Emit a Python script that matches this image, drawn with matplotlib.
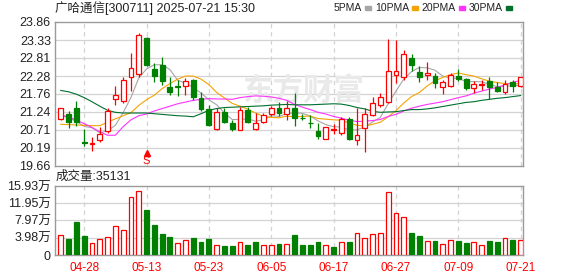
"""
Daily K-line chart for 广哈通信 (300711) with PMA lines and volume panel.
Run: python plot.py
"""
import matplotlib
matplotlib.use("Agg")
import matplotlib.pyplot as plt

plt.rcParams["font.family"] = ["Liberation Sans", "Noto Sans CJK SC"]

# ---- data -------------------------------------------------------------------
DATES = [
    "04-23", "04-24", "04-25", "04-28", "04-29", "04-30", "05-06", "05-07",
    "05-08", "05-09", "05-12", "05-13", "05-14", "05-15", "05-16", "05-19",
    "05-20", "05-21", "05-22", "05-23", "05-26", "05-27", "05-28", "05-29",
    "05-30", "06-03", "06-04", "06-05", "06-06", "06-09", "06-10", "06-11",
    "06-12", "06-13", "06-16", "06-17", "06-18", "06-19", "06-20", "06-23",
    "06-24", "06-25", "06-26", "06-27", "06-30", "07-01", "07-02", "07-03",
    "07-04", "07-07", "07-08", "07-09", "07-10", "07-11", "07-14", "07-15",
    "07-16", "07-17", "07-18", "07-21",
]
OPEN = [
    21.02, 21.17, 21.34, 20.35, 20.29, 20.40, 20.68, 21.62, 21.54, 22.26,
    22.33, 23.40, 22.48, 22.59, 21.96, 21.98, 22.00, 22.17, 21.65, 21.31,
    20.73, 21.24, 20.91, 20.71, 21.29, 20.73, 20.95, 21.17, 21.34, 21.17,
    21.34, 21.06, 20.92, 20.68, 20.45, 20.70, 20.63, 21.03, 20.40, 20.76,
    21.13, 21.42, 21.51, 22.31, 22.26, 22.80, 22.39, 22.31, 22.28, 21.96,
    22.00, 22.28, 22.19, 21.93, 22.03, 22.14, 21.97, 21.80, 22.12, 22.00,
]
HIGH = [
    21.36, 21.26, 21.56, 20.73, 20.50, 20.79, 21.34, 21.99, 22.26, 22.95,
    23.53, 23.42, 22.66, 22.83, 22.25, 22.17, 22.22, 22.18, 21.80, 21.44,
    21.34, 21.34, 21.00, 21.37, 21.37, 21.20, 21.20, 21.41, 21.51, 21.54,
    21.78, 21.17, 21.15, 20.91, 20.80, 20.88, 21.08, 21.07, 21.34, 21.34,
    21.68, 21.78, 23.36, 23.33, 23.04, 22.93, 22.56, 22.68, 22.36, 22.17,
    22.38, 22.49, 22.22, 22.14, 22.17, 22.26, 22.12, 22.17, 22.17, 22.26,
]
LOW = [
    21.00, 20.76, 20.83, 20.24, 20.08, 20.34, 20.61, 21.44, 21.49, 21.83,
    22.26, 22.56, 22.12, 22.02, 21.73, 21.70, 21.73, 21.59, 21.27, 20.81,
    20.71, 20.91, 20.68, 20.69, 20.91, 20.71, 20.91, 21.10, 21.10, 21.00,
    20.83, 21.00, 20.76, 20.43, 20.43, 20.59, 20.56, 20.42, 20.27, 20.05,
    21.10, 21.39, 21.49, 22.07, 22.17, 22.44, 22.12, 22.17, 21.94, 21.76,
    21.97, 22.14, 21.88, 21.78, 21.88, 21.61, 21.80, 21.76, 21.80, 21.97,
]
CLOSE = [
    21.34, 20.95, 20.95, 20.31, 20.31, 20.59, 21.26, 21.72, 22.16, 22.51,
    23.47, 22.61, 22.29, 22.15, 21.81, 21.96, 22.15, 21.68, 21.31, 20.86,
    21.22, 20.95, 20.73, 21.29, 20.94, 20.91, 21.13, 21.34, 21.20, 21.34,
    21.05, 21.04, 20.90, 20.54, 20.78, 20.72, 21.03, 20.45, 20.56, 21.17,
    21.49, 21.68, 22.43, 22.43, 22.92, 22.61, 22.26, 22.38, 22.07, 22.10,
    22.31, 22.19, 21.94, 22.04, 22.05, 21.97, 21.85, 22.04, 22.00, 22.24,
]
MA5 = [
    21.12, 21.07, 20.95, 20.81, 20.77, 20.62, 20.68, 20.84, 21.21, 21.65,
    22.22, 22.49, 22.61, 22.61, 22.47, 22.16, 22.07, 21.95, 21.78, 21.59,
    21.44, 21.20, 21.01, 21.01, 21.03, 20.96, 21.00, 21.12, 21.10, 21.18,
    21.21, 21.19, 21.11, 20.97, 20.86, 20.80, 20.79, 20.70, 20.71, 20.79,
    20.94, 21.07, 21.47, 21.84, 22.19, 22.41, 22.53, 22.52, 22.45, 22.28,
    22.22, 22.21, 22.12, 22.12, 22.11, 22.04, 21.97, 21.99, 21.98, 22.02,
]
MA10 = [
    20.87, 20.86, 20.85, 20.84, 20.83, 20.83, 20.93, 21.03, 21.12, 21.21,
    21.42, 21.59, 21.72, 21.91, 22.06, 22.19, 22.28, 22.28, 22.19, 22.03,
    21.80, 21.64, 21.48, 21.40, 21.31, 21.20, 21.10, 21.07, 21.06, 21.11,
    21.09, 21.10, 21.11, 21.04, 21.02, 21.00, 20.99, 20.91, 20.84, 20.82,
    20.87, 20.93, 21.09, 21.27, 21.49, 21.68, 21.80, 21.99, 22.14, 22.24,
    22.32, 22.37, 22.32, 22.28, 22.20, 22.13, 22.09, 22.06, 22.05, 22.06,
]
MA20 = [
    21.14, 21.09, 20.99, 20.89, 20.78, 20.65, 20.55, 20.55, 20.80, 21.00,
    21.12, 21.17, 21.26, 21.33, 21.40, 21.47, 21.52, 21.57, 21.60, 21.62,
    21.61, 21.61, 21.60, 21.65, 21.68, 21.70, 21.69, 21.67, 21.63, 21.57,
    21.45, 21.37, 21.30, 21.22, 21.17, 21.10, 21.05, 20.99, 20.95, 20.96,
    20.98, 21.01, 21.10, 21.16, 21.26, 21.34, 21.40, 21.45, 21.49, 21.53,
    21.59, 21.65, 21.70, 21.78, 21.84, 21.90, 21.95, 22.02, 22.10, 22.15,
]
MA30 = [
    21.86, 21.82, 21.75, 21.65, 21.53, 21.40, 21.28, 21.22, 21.20, 21.20,
    21.20, 21.20, 21.18, 21.16, 21.14, 21.12, 21.11, 21.09, 21.18, 21.28,
    21.33, 21.36, 21.37, 21.38, 21.39, 21.40, 21.41, 21.43, 21.44, 21.45,
    21.44, 21.44, 21.44, 21.45, 21.46, 21.47, 21.46, 21.42, 21.36, 21.32,
    21.25, 21.22, 21.23, 21.24, 21.27, 21.30, 21.30, 21.32, 21.35, 21.39,
    21.43, 21.47, 21.51, 21.53, 21.57, 21.60, 21.63, 21.65, 21.68, 21.71,
]
# volume in 万手, and whether the bar is drawn red (close up on prior close)
VOLUME = [
    4.62, 3.69, 7.70, 4.39, 2.77, 3.62, 4.08, 6.62, 5.69, 13.31,
    14.70, 10.39, 6.93, 4.92, 4.16, 2.77, 3.39, 3.92, 3.08, 3.69,
    2.31, 2.08, 2.08, 3.00, 2.31, 3.00, 2.23, 2.23, 2.54, 2.54,
    4.62, 2.31, 2.31, 3.00, 2.23, 1.77, 3.00, 3.00, 5.00, 3.85,
    4.77, 5.00, 14.47, 9.62, 8.70, 5.08, 4.39, 3.16, 3.23, 2.54,
    3.39, 3.23, 2.85, 3.00, 2.23, 3.23, 3.00, 3.85, 3.46, 3.51,
]
VOL_UP = [
    1, 0, 0, 0, 1, 1, 1, 1, 1, 1,
    1, 0, 0, 0, 0, 1, 1, 0, 0, 0,
    1, 0, 0, 1, 0, 0, 1, 1, 0, 1,
    0, 0, 0, 0, 1, 0, 1, 0, 1, 1,
    1, 1, 1, 1, 1, 0, 0, 1, 0, 1,
    1, 0, 0, 1, 1, 0, 0, 1, 0, 1,
]
PRICE_TICKS = [19.66, 20.19, 20.71, 21.24, 21.76, 22.28, 22.81, 23.33, 23.86]
VOL_TICKS = [0, 3.98, 7.97, 11.95, 15.93]
VOL_LABELS = ["0", "3.98万", "7.97万", "11.95万", "15.93万"]
DATE_TICKS = ["04-28", "05-13", "05-23", "06-05", "06-17", "06-27", "07-09", "07-21"]
SIGNAL_DATE = "05-13"
LAST_VOLUME = 35131
TITLE = "广哈通信[300711] 2025-07-21 15:30"

# ---- style ------------------------------------------------------------------
W, H = 578, 276
RED = "#ff0000"
GREEN = "#008000"
GRID = "#d3d3d3"
FRAME = "#9a9a9a"
TEXT = "#222222"
# name, series, colour, pixel x of the legend swatch
MA_STYLE = [
    ("5PMA", MA5, "#a6a6a6", 365),
    ("10PMA", MA10, "#f5a300", 412),
    ("20PMA", MA20, "#ff33ff", 459),
    ("30PMA", MA30, "#006f2e", 506),
]
BODY_W = 0.62


def fx(px):
    return px / W


def fy(py):
    return 1 - py / H


def style_axes(ax):
    ax.set_xlim(-0.74, len(DATES) - 0.7)
    for spine in ax.spines.values():
        spine.set_edgecolor(FRAME)
        spine.set_linewidth(1.0)
    ax.tick_params(length=0, labelsize=9, colors=TEXT, pad=3)
    ax.set_axisbelow(True)
    xs = [DATES.index(d) for d in DATE_TICKS]
    for x in xs:
        ax.axvline(x, color=GRID, linewidth=0.9, dashes=(3.5, 3), zorder=0)
    return xs


def draw_candles(ax):
    for i in range(len(DATES)):
        o, h, l, c = OPEN[i], HIGH[i], LOW[i], CLOSE[i]
        up = c >= o
        col = RED if up else GREEN
        ax.vlines(i, l, h, color=col, linewidth=0.9, zorder=3)
        bottom = min(o, c)
        height = max(abs(c - o), 0.004)
        ax.bar(i, height, bottom=bottom, width=BODY_W,
               facecolor="white" if up else GREEN, edgecolor=col,
               linewidth=0.9, zorder=4)


def main():
    fig = plt.figure(figsize=(W / 100, H / 100), dpi=100)
    fig.patch.set_facecolor("white")

    ax = fig.add_axes([fx(55), fy(165.7), fx(468), 143.7 / H])
    ax_v = fig.add_axes([fx(55), fy(255), fx(468), 69 / H])

    # price panel
    style_axes(ax)
    ax.set_ylim(PRICE_TICKS[0], PRICE_TICKS[-1])
    ax.set_yticks(PRICE_TICKS)
    ax.set_yticklabels(["{:.2f}".format(v) for v in PRICE_TICKS])
    ax.set_xticks([])
    for v in PRICE_TICKS[1:-1]:
        ax.axhline(v, color=GRID, linewidth=0.9, zorder=0)

    ax.text(0.53, 0.52, "东方财富", transform=ax.transAxes, fontsize=22,
            fontweight="bold", color="#e9e9e9", ha="center", va="center",
            family=["Noto Sans CJK SC"], zorder=1)

    x = list(range(len(DATES)))
    for name, series, color, _ in MA_STYLE:
        ax.plot(x, series, color=color, linewidth=0.8, zorder=2)
    draw_candles(ax)

    sig = DATES.index(SIGNAL_DATE)
    ax.plot(sig, 0.085, marker="^", markersize=4, color=RED,
            transform=ax.get_xaxis_transform(), clip_on=False, zorder=5)
    ax.text(sig, 0.035, "S", color=RED, fontsize=8, ha="center", va="center",
            transform=ax.get_xaxis_transform(), zorder=5)

    # volume panel
    xs = style_axes(ax_v)
    ax_v.set_ylim(VOL_TICKS[0], VOL_TICKS[-1])
    ax_v.set_yticks(VOL_TICKS)
    ax_v.set_yticklabels(VOL_LABELS)
    for v in VOL_TICKS[1:-1]:
        ax_v.axhline(v, color=GRID, linewidth=0.9, zorder=0)
    for i in range(len(DATES)):
        up = VOL_UP[i] == 1
        col = RED if up else GREEN
        ax_v.bar(i, VOLUME[i], width=BODY_W, facecolor="white" if up else GREEN,
                 edgecolor=col, linewidth=0.9, zorder=3)
    ax_v.set_xticks(xs)
    ax_v.set_xticklabels(DATE_TICKS)
    ax_v.tick_params(axis="x", colors=RED, labelsize=8.5, pad=5)

    # header texts
    fig.text(fx(55), fy(8), TITLE, fontsize=9, color=TEXT, va="center", ha="left")
    for name, series, color, px in MA_STYLE:
        fig.text(fx(px - 3), fy(8), name, fontsize=7.5, color=TEXT,
                 va="center", ha="right")
        fig.patches.append(plt.Rectangle((fx(px), fy(9.5)), fx(6), 3 / H,
                                         transform=fig.transFigure, color=color,
                                         figure=fig))
    fig.text(fx(56), fy(177), "成交量:" + str(LAST_VOLUME), fontsize=9,
             color=TEXT, va="center", ha="left")

    fig.savefig("out.png", dpi=100, facecolor="white")
    plt.close(fig)


if __name__ == "__main__":
    main()
